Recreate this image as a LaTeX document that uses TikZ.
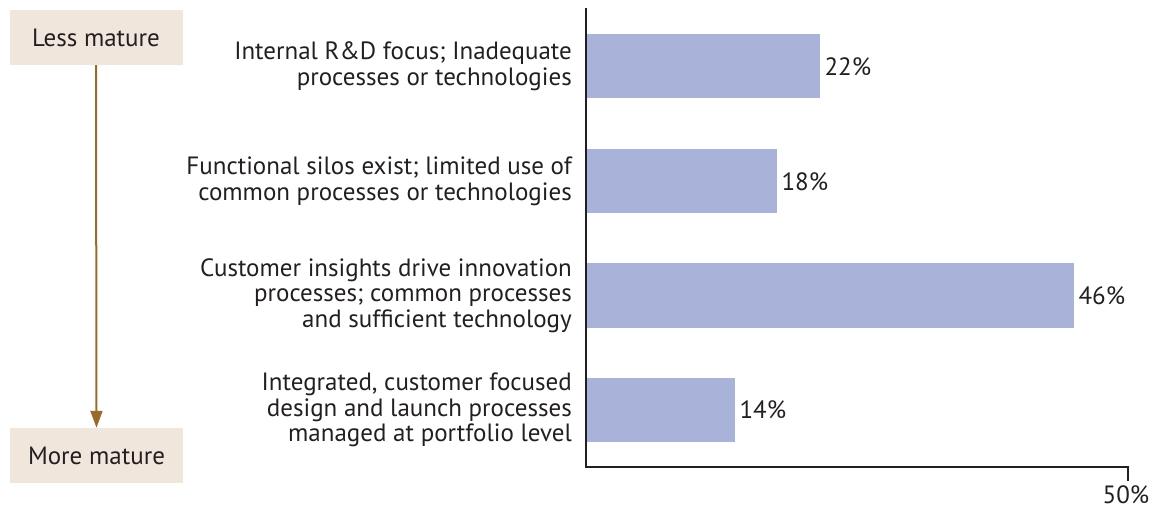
\documentclass[tikz,border=0pt]{standalone}
\usepackage{fontspec}
\setmainfont{PT Sans}
\usetikzlibrary{arrows.meta}
\definecolor{boxfill}{HTML}{F0E6DC}
\definecolor{arrowbrown}{HTML}{9A6A2A}
\definecolor{barfill}{HTML}{A9B2D9}
\definecolor{inkgray}{HTML}{231F20}

\begin{document}
\begin{tikzpicture}[x=1pt,y=-1pt,
  every node/.style={text=inkgray,font=\fontsize{25}{25.5}\selectfont},
  level/.style={fill=boxfill,minimum width=173pt,minimum height=55pt,inner sep=0pt},
  bar/.style={fill=barfill,minimum height=64pt,inner sep=0pt,anchor=west},
  category/.style={align=right,anchor=east,inner sep=0pt},
  value/.style={anchor=west,inner sep=4pt}]
				\useasboundingbox (0,0) rectangle (1158,510);
				% maturity scale
				\node[level] (less) at (96,37.5) {Less mature};
				\node[level] (more) at (96.5,455.5) {More mature};
				\draw[arrowbrown,line width=2pt,-{Triangle[width=12pt,length=17pt]}] (less) to (more);
				% axes
				\coordinate (origin) at (586,467);
				\coordinate (top) at (586,8);
				\coordinate (end) at (1128,467);
				\coordinate (tick) at (1128,481);
				\draw[inkgray,line width=2.6pt] (top) to (origin) to (end) to (tick);
				\node[anchor=north,inner sep=0pt] (max) at (1126,485) {50\%};
				% bars
				\node[bar,minimum width=233pt] (rd) at (587,66.5) {};
				\node[bar,minimum width=190pt] (silos) at (587,181.5) {};
				\node[bar,minimum width=487pt] (insight) at (587,295.5) {};
				\node[bar,minimum width=148pt] (integr) at (587,410) {};
				\node[value] at (rd.east) {22\%};
				\node[value] at (silos.east) {18\%};
				\node[value] at (insight.east) {46\%};
				\node[value] at (integr.east) {14\%};
				% categories
				\node[category] (rdtxt) at (572,66.5) {Internal R\&D focus; Inadequate\\processes or technologies};
				\node[category] (silostxt) at (572,181.5) {Functional silos exist; limited use of\\common processes or technologies};
				\node[category] (insighttxt) at (572,295.5) {Customer insights drive innovation\\processes; common processes\\and sufficient technology};
				\node[category] (integrtxt) at (572,410) {Integrated, customer focused\\design and launch processes\\managed at portfolio level};
			\end{tikzpicture}
\end{document}
